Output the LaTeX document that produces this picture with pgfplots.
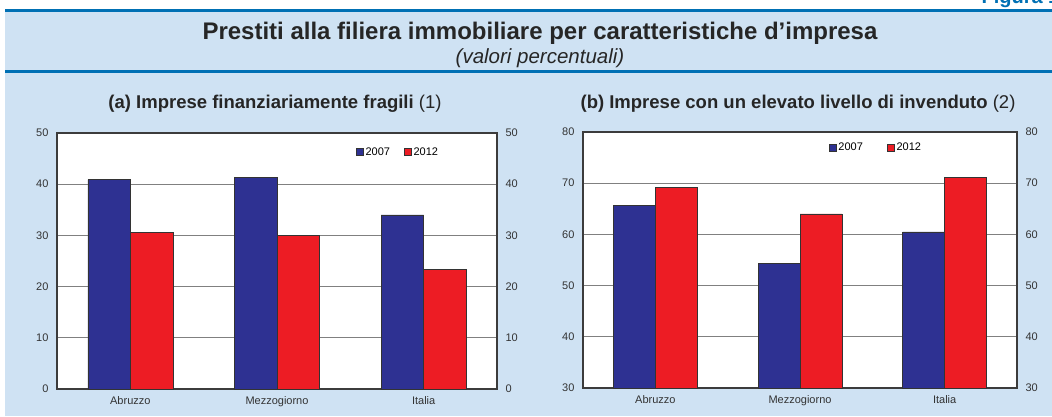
\documentclass[border=0pt]{standalone}
\usepackage{fontspec}
\setmainfont{Liberation Sans}
\usepackage{pgfplots}
\pgfplotsset{compat=1.18}

\definecolor{bgblue}{RGB}{207,226,243}
\definecolor{rulebl}{RGB}{0,112,180}
\definecolor{bar07}{RGB}{46,49,146}
\definecolor{bar12}{RGB}{237,28,36}
\definecolor{gridg}{RGB}{128,128,128}
\definecolor{frameg}{RGB}{60,60,60}

\pgfplotsset{
  panel/.style={
    scale only axis, height=256pt,
    xmin=-0.5, xmax=2.5, xtick={0,1,2},
    xticklabels={Abruzzo,Mezzogiorno,Italia},
    ybar=0pt, bar width=0.29,
    axis background/.style={fill=white},
    ymajorgrids, grid style={gridg, line width=0.9pt},
    axis line style={frameg, line width=1.1pt},
    major tick length=0pt,
    /pgf/number format/assume math mode=true,
    tick label style={font=\fontsize{11}{13}\selectfont, text=black!80},
    xticklabel style={yshift=-4pt},
    yticklabel style={xshift=-5pt},
    legend style={draw=none, fill=none, font=\fontsize{11}{13}\selectfont, anchor=center},
    legend columns=2,
    legend image code/.code={\draw[#1, draw=black!80] (0pt,-3.5pt) rectangle (7pt,3.5pt);},
  },
  rightlabels/.style={
    scale only axis, height=256pt,
    xmin=-0.5, xmax=2.5, hide x axis,
    axis y line*=right, y axis line style={draw=none},
    major tick length=0pt,
    /pgf/number format/assume math mode=true,
    tick label style={font=\fontsize{11}{13}\selectfont, text=black!80},
    yticklabel style={xshift=5pt},
  },
  b07/.style={fill=bar07, draw=black!80, line width=0.6pt},
  b12/.style={fill=bar12, draw=black!80, line width=0.6pt},
}

\begin{document}
\begin{tikzpicture}
\useasboundingbox (0,0) rectangle (1052pt,416pt);
\fill[bgblue] (5pt,0) rectangle (1052pt,404pt);
\draw[rulebl, line width=3pt] (5pt,405pt) -- (1052pt,405pt);
\draw[rulebl, line width=3pt] (5pt,344pt) -- (1052pt,344pt);
\node[anchor=base west, font=\bfseries\fontsize{20}{24}\selectfont, text=rulebl] at (978pt,412pt) {Figura 1};
\node[font=\bfseries\fontsize{24}{28}\selectfont, text=black!85] at (540pt,383pt) {Prestiti alla filiera immobiliare per caratteristiche d’impresa};
\node[font=\itshape\fontsize{20.5}{24}\selectfont, text=black!85] at (540pt,358pt) {(valori percentuali)};
\node[font=\fontsize{18.5}{22}\selectfont, text=black!85] at (275pt,312pt) {\textbf{(a) Imprese finanziariamente fragili} (1)};
\node[font=\fontsize{18.5}{22}\selectfont, text=black!85] at (798pt,312pt) {\textbf{(b) Imprese con un elevato livello di invenduto} (2)};

% panel (a)
\begin{axis}[panel, at={(57pt,27pt)}, anchor=south west, width=440pt,
  ymin=0, ymax=50, ytick={0,10,...,50},
  legend style={at={(0.775,0.926)}},
  /tikz/every even column/.append style={column sep=12pt}]
\addplot[b07] coordinates {(0,40.9) (1,41.3) (2,34.0)};
\addplot[b12] coordinates {(0,30.6) (1,30.0) (2,23.4)};
\legend{2007,2012}
\end{axis}
\begin{axis}[rightlabels, at={(57pt,27pt)}, anchor=south west, width=440pt,
  ymin=0, ymax=50, ytick={0,10,...,50}]
\addplot[draw=none] coordinates {(0,0)};
\end{axis}

% panel (b)
\begin{axis}[panel, at={(583pt,28pt)}, anchor=south west, width=434pt,
  ymin=30, ymax=80, ytick={30,40,...,80},
  legend style={at={(0.675,0.94)}},
  /tikz/every even column/.append style={column sep=22pt}]
\addplot[b07] coordinates {(0,65.6) (1,54.4) (2,60.5)};
\addplot[b12] coordinates {(0,69.2) (1,64.0) (2,71.2)};
\legend{2007,2012}
\end{axis}
\begin{axis}[rightlabels, at={(583pt,28pt)}, anchor=south west, width=434pt,
  ymin=30, ymax=80, ytick={30,40,...,80}]
\addplot[draw=none] coordinates {(0,30)};
\end{axis}
\end{tikzpicture}
\end{document}
